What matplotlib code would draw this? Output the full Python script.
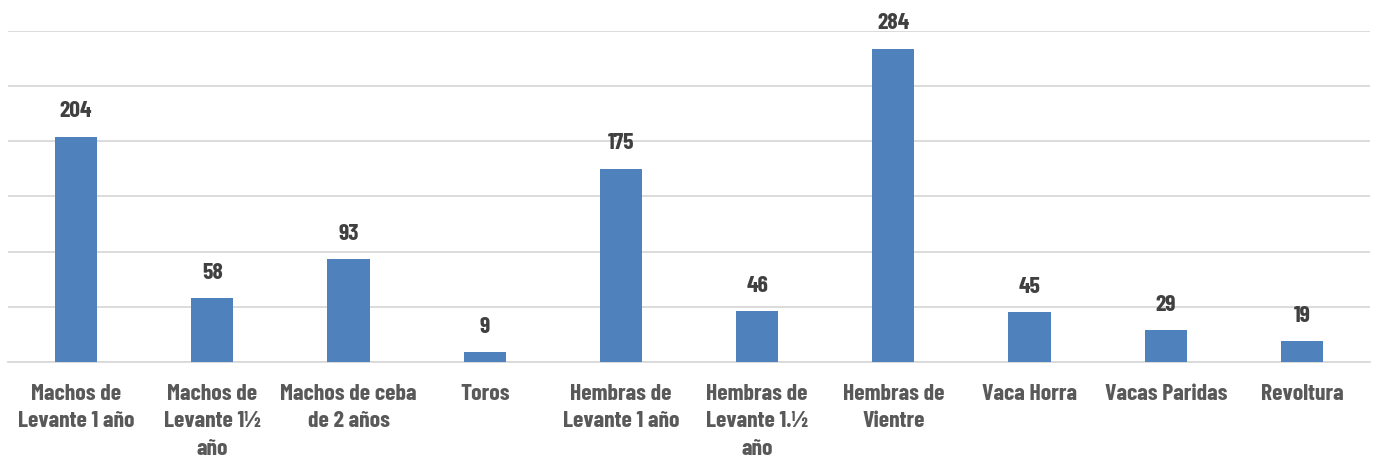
import matplotlib
matplotlib.use("Agg")
import matplotlib.pyplot as plt
from matplotlib import font_manager

categories = ["Machos de\nLevante 1 año", "Machos de\nLevante 1½\naño", "Machos de ceba\nde 2 años",
              "Toros", "Hembras de\nLevante 1 año", "Hembras de\nLevante 1.½\naño",
              "Hembras de\nVientre", "Vaca Horra", "Vacas Paridas", "Revoltura"]
values = [204, 58, 93, 9, 175, 46, 284, 45, 29, 19]
yticks = [0, 50, 100, 150, 200, 250, 300]

names = {f.name for f in font_manager.fontManager.ttflist}
fam = ["Barlow Condensed", "DejaVu Sans"] if "Barlow Condensed" in names else ["DejaVu Sans"]
plt.rcParams['font.family'] = fam

fig = plt.figure(figsize=(13.75, 4.59), dpi=100)
ax = fig.add_axes([8/1375, 1-362/459, 1362/1375, 331/459])
x = list(range(len(categories)))
ax.bar(x, values, width=0.31, color="#4F81BD", zorder=3)
ax.set_xlim(-0.5, len(categories)-0.5)
ax.set_ylim(0, 300)
ax.set_yticks(yticks)
ax.yaxis.grid(True, color="#D9D9D9", linewidth=1.3, zorder=0)
ax.tick_params(axis='y', left=False, labelleft=False)
ax.tick_params(axis='x', bottom=False, pad=12)
ax.set_xticks(x)
ax.set_xticklabels(categories, fontsize=17, fontweight='bold', color="#595959", linespacing=1.49, va='top')
for s in ["top", "right", "left"]:
    ax.spines[s].set_visible(False)
ax.spines["bottom"].set_color("#D9D9D9")
ax.spines["bottom"].set_linewidth(1.3)
for xi, v in zip(x, values):
    ax.text(xi, v + 14, str(v), ha='center', va='bottom', fontsize=17, fontweight='bold',
            color="#404040", clip_on=False)
fig.savefig("out.png", dpi=100)
